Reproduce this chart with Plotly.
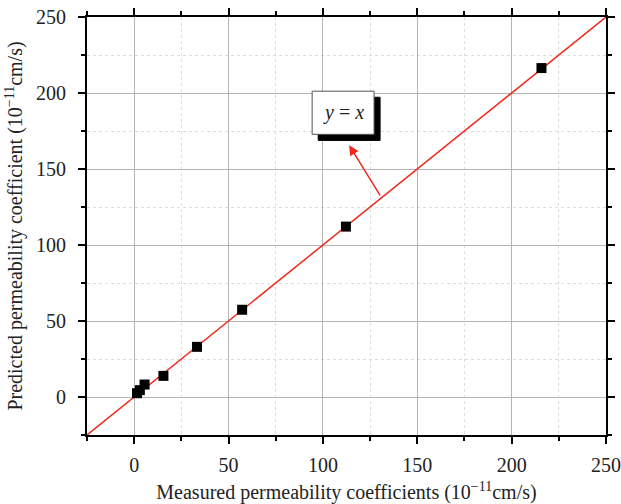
import plotly.graph_objects as go

measured = [1.5, 3.0, 5.5, 15.5, 33.3, 57.2, 112.2, 215.8]
predicted = [2.5, 4.5, 8.2, 13.9, 33.0, 57.4, 112.1, 216.4]
fit_x = [-25, 250]
fit_y = [-25, 250]
tick_vals = [0, 50, 100, 150, 200, 250]

FONT = "Liberation Serif"

fig = go.Figure()
fig.add_trace(go.Scatter(x=fit_x, y=fit_y, mode="lines",
                         line=dict(color="#f0281e", width=1.5), showlegend=False))
fig.add_trace(go.Scatter(x=measured, y=predicted, mode="markers",
                         marker=dict(symbol="square", size=10, color="black"),
                         showlegend=False))

axis_common = dict(
    showline=True, linecolor="black", linewidth=2, mirror="ticks",
    ticks="outside", ticklen=7, tickwidth=2, tickcolor="black",
    showgrid=True, gridcolor="#b4b4b4", gridwidth=1,
    minor=dict(dtick=25, ticks="outside", ticklen=4, tickwidth=1.5, tickcolor="black",
               showgrid=True, gridcolor="#dddddd", griddash="dot", gridwidth=1),
    zeroline=False, tickvals=tick_vals, automargin=False,
    tickfont=dict(family=FONT, size=20, color="#222"),
)

fig.update_xaxes(range=[-25, 250], **axis_common, ticklabelstandoff=4,
                 title=dict(text="Measured permeability coefficients (10<sup>−11</sup>cm/s)",
                            font=dict(family=FONT, size=20, color="#222"), standoff=10))
fig.update_yaxes(range=[-25, 250], **axis_common, ticklabelstandoff=8,
                 title=dict(text="Predicted permeability coefficient (10<sup>−11</sup>cm/s)",
                            font=dict(family=FONT, size=20, color="#222"), standoff=8))

# shadow and box for the label
fig.add_shape(type="rect", x0=97.5, x1=130.3, y0=168.8, y1=197.2, xref="x", yref="y",
              fillcolor="black", line=dict(color="black", width=1))
fig.add_shape(type="rect", x0=94.3, x1=127.1, y0=172.8, y1=201.2, xref="x", yref="y",
              fillcolor="white", line=dict(color="#555", width=1))
fig.add_annotation(x=110.7, y=187, xref="x", yref="y", showarrow=False,
                   text="<i>y</i> = <i>x</i>", font=dict(family=FONT, size=20, color="#222"))
fig.add_annotation(x=113.9, y=165.6, ax=130.8, ay=131.7, xref="x", yref="y",
                   axref="x", ayref="y", showarrow=True, arrowhead=2, arrowsize=1.3,
                   arrowwidth=1.5, arrowcolor="#f0281e", text="")

fig.update_layout(width=621, height=504, margin=dict(l=87, r=15, t=17, b=69),
                  plot_bgcolor="white", paper_bgcolor="white")

fig.write_html("out.html", config={"displayModeBar": False},
               post_script="document.body.style.margin='0';document.body.style.overflow='hidden';")
